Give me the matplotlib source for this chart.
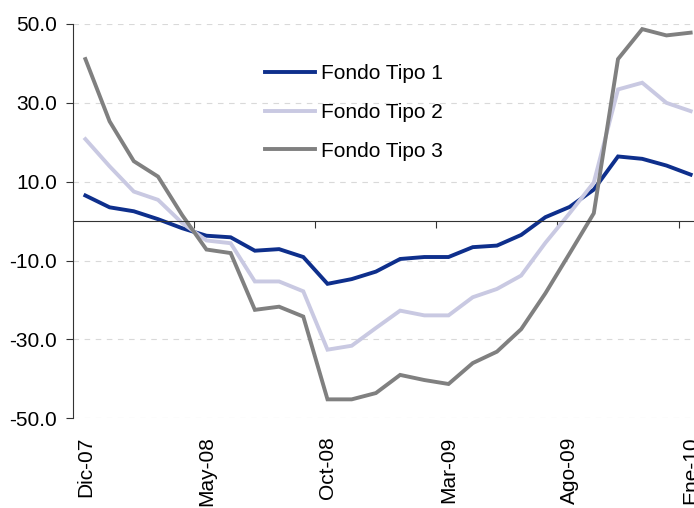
import numpy as np
import matplotlib
matplotlib.use("Agg")
import matplotlib.pyplot as plt

plt.rcParams["font.family"] = ["Liberation Sans", "DejaVu Sans"]

# ── Data ──────────────────────────────────────────────────────────────────────
months = ["Dic-07", "Ene-08", "Feb-08", "Mar-08", "Abr-08", "May-08", "Jun-08",
          "Jul-08", "Ago-08", "Sep-08", "Oct-08", "Nov-08", "Dic-08", "Ene-09",
          "Feb-09", "Mar-09", "Abr-09", "May-09", "Jun-09", "Jul-09", "Ago-09",
          "Sep-09", "Oct-09", "Nov-09", "Dic-09", "Ene-10"]

fondo1 = [6.5, 3.5, 2.5, 0.5, -1.8, -3.7, -4.1, -7.5, -7.1, -9.1, -15.9, -14.7, -12.8,
          -9.6, -9.1, -9.1, -6.6, -6.2, -3.5, 1.0, 3.6, 8.0, 16.4, 15.8, 14.1, 11.8]
fondo2 = [20.8, 13.9, 7.5, 5.4, -0.5, -4.9, -5.6, -15.3, -15.3, -17.8, -32.6, -31.6, -27.1,
          -22.7, -23.9, -23.9, -19.3, -17.2, -13.8, -5.5, 2.0, 9.8, 33.4, 35.1, 30.0, 27.9]
fondo3 = [41.1, 25.3, 15.2, 11.3, 1.5, -7.2, -8.1, -22.5, -21.7, -24.2, -45.2, -45.2, -43.6,
          -39.0, -40.3, -41.3, -36.0, -33.1, -27.4, -18.3, -8.2, 2.0, 41.1, 48.7, 47.1, 47.8]

series_names = ["Fondo Tipo 1", "Fondo Tipo 2", "Fondo Tipo 3"]
colors = ["#0E2F8C", "#C9C9E2", "#808080"]

yticks = [-50, -30, -10, 10, 30, 50]

# ── Figure ────────────────────────────────────────────────────────────────────
fig = plt.figure(figsize=(6.94, 5.08), dpi=100)
ax = fig.add_axes([0.1056, 0.1766, 0.907, 0.7762])

x = np.arange(len(months))
for vals, name, c in zip([fondo1, fondo2, fondo3], series_names, colors):
    ax.plot(x, vals, color=c, lw=2.8, label=name, solid_joinstyle="miter")

ax.set_xlim(-0.5, len(months) - 0.5)
ax.set_ylim(-50, 50)

# y axis
ax.set_yticks(yticks, labels=[f"{v:.1f}" for v in yticks])
ax.tick_params(axis="y", direction="out", length=4.8, width=0.8, pad=7,
               labelsize=15, colors="#333333", labelcolor="black")
ax.yaxis.grid(True, color="#D9D9D9", lw=0.8, linestyle=(0, (5, 5)))
ax.set_axisbelow(True)

# zero line with tick marks between categories
ax.spines["bottom"].set_position(("data", 0))
ax.spines["bottom"].set_color("#333333")
ax.spines["bottom"].set_linewidth(0.8)
ax.spines["left"].set_color("#333333")
ax.spines["left"].set_linewidth(0.8)
ax.spines["top"].set_visible(False)
ax.spines["right"].set_visible(False)
ax.set_xticks(np.arange(4.5, len(months), 5), labels=[])
ax.tick_params(axis="x", direction="out", length=5, width=0.8, colors="#333333")

# category labels below plot area
sec = ax.secondary_xaxis("bottom")
sec.set_xticks(x[::5], labels=months[::5], rotation=90)
sec.tick_params(length=0, pad=13, labelsize=15)
sec.spines["bottom"].set_visible(False)

ax.legend(loc="upper left", bbox_to_anchor=(265 / 694, 1 - 64 / 508),
          bbox_transform=fig.transFigure, frameon=False, fontsize=15,
          handlelength=2.4, handletextpad=0.3, labelspacing=0.95,
          borderpad=0, borderaxespad=0)

fig.savefig("out.png", dpi=100)
